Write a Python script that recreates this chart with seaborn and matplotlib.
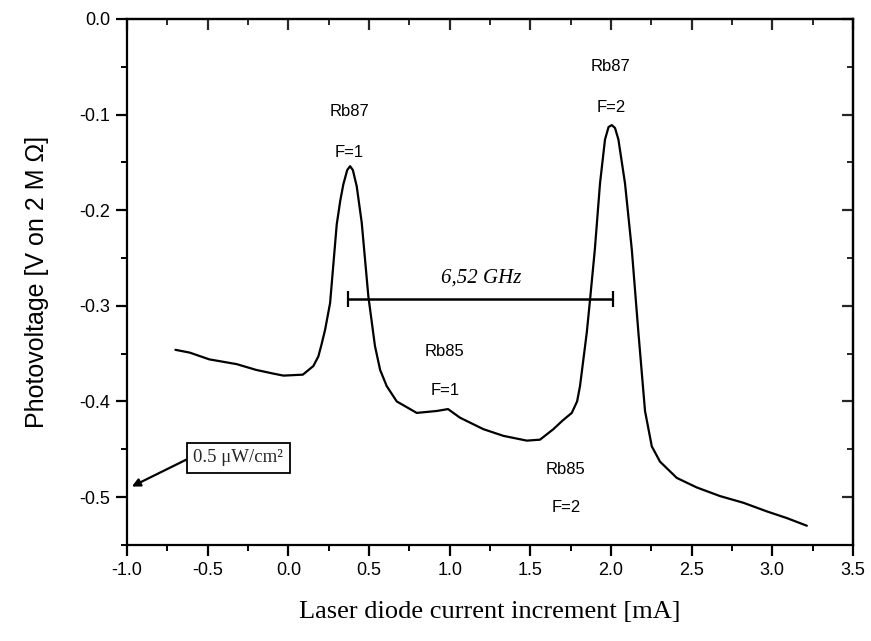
import numpy as np
import pandas as pd
import seaborn as sns
import matplotlib
matplotlib.use("Agg")
import matplotlib.pyplot as plt
from matplotlib.ticker import MultipleLocator, FormatStrFormatter

# Absorption spectrum: laser diode current increment vs photovoltage
current_ma = [-0.70, -0.61, -0.49, -0.32, -0.20, -0.09, -0.03, 0.09, 0.155, 0.186,
              0.205, 0.228, 0.259, 0.28, 0.30, 0.322, 0.341, 0.365, 0.383, 0.40, 0.424,
              0.455, 0.496, 0.537, 0.569, 0.61, 0.672, 0.796, 0.92, 0.99, 1.064,
              1.209, 1.333, 1.478, 1.56, 1.643, 1.70, 1.757, 1.79, 1.808, 1.85,
              1.87, 1.90, 1.932, 1.963, 1.985, 2.005, 2.025, 2.046, 2.087, 2.129,
              2.17, 2.211, 2.253, 2.304, 2.408, 2.532, 2.676, 2.821, 2.966, 3.09,
              3.214]
photovoltage_v = [-0.346, -0.349, -0.356, -0.361, -0.367, -0.371, -0.373, -0.372, -0.363, -0.353,
                  -0.341, -0.325, -0.297, -0.255, -0.215, -0.19, -0.173, -0.158, -0.154, -0.158, -0.175,
                  -0.213, -0.29, -0.342, -0.367, -0.384, -0.400, -0.412, -0.410, -0.408, -0.417,
                  -0.429, -0.436, -0.441, -0.440, -0.429, -0.420, -0.412, -0.400, -0.384, -0.328,
                  -0.294, -0.241, -0.172, -0.126, -0.113, -0.111, -0.114, -0.126, -0.172, -0.241,
                  -0.328, -0.410, -0.447, -0.463, -0.480, -0.490, -0.499, -0.506, -0.515, -0.522,
                  -0.530]

# Peak labels: (text, x, y)
peak_labels = ["Rb87", "F=1", "Rb87", "F=2", "Rb85", "F=1", "Rb85", "F=2"]
peak_label_x = [0.38, 0.38, 2.00, 2.00, 0.97, 0.97, 1.72, 1.72]
peak_label_y = [-0.097, -0.140, -0.050, -0.093, -0.348, -0.389, -0.471, -0.511]

# Hyperfine splitting marker between the two Rb87 peaks
split_x = [0.372, 2.015]
split_y = -0.293
split_text = "6,52 GHz"

intensity_text = "0.5 \u03bcW/cm\u00b2"

df = pd.DataFrame({"current": current_ma, "voltage": photovoltage_v})

sns.set_theme(style="ticks")
plt.rcParams["font.family"] = ["Liberation Sans", "DejaVu Sans"]
plt.rcParams["axes.unicode_minus"] = False

fig = plt.figure(figsize=(8.71, 6.41), dpi=100)
ax = fig.add_axes([0.1458, 0.150, 0.8335, 0.8204])

sns.lineplot(data=df, x="current", y="voltage", ax=ax, color="black",
             linewidth=1.6, sort=False, estimator=None)

ax.set_xlim(-1.0, 3.5)
ax.set_ylim(-0.55, 0.0)

for s in ax.spines.values():
    s.set_linewidth(1.6)
    s.set_color("black")

ax.xaxis.set_major_locator(MultipleLocator(0.5))
ax.xaxis.set_minor_locator(MultipleLocator(0.25))
ax.yaxis.set_major_locator(MultipleLocator(0.1))
ax.yaxis.set_minor_locator(MultipleLocator(0.05))
ax.xaxis.set_major_formatter(FormatStrFormatter("%.1f"))
ax.yaxis.set_major_formatter(FormatStrFormatter("%.1f"))
ax.tick_params(which="major", direction="out", length=8, width=1.6,
               labelsize=13, colors="black", pad=4)
ax.tick_params(which="minor", direction="out", length=4, width=1.4, colors="black")

# Mirror ticks on top and right, pointing into the plot
top = ax.secondary_xaxis("top")
top.xaxis.set_major_locator(MultipleLocator(0.5))
top.xaxis.set_minor_locator(MultipleLocator(0.25))
top.tick_params(which="major", direction="in", length=8, width=1.6, labeltop=False)
top.tick_params(which="minor", direction="in", length=4, width=1.4)
top.spines["top"].set_linewidth(1.6)
right = ax.secondary_yaxis("right")
right.yaxis.set_major_locator(MultipleLocator(0.1))
right.yaxis.set_minor_locator(MultipleLocator(0.05))
right.tick_params(which="major", direction="in", length=8, width=1.6, labelright=False)
right.tick_params(which="minor", direction="in", length=4, width=1.4)
right.spines["right"].set_linewidth(1.6)

ax.set_xlabel("Laser diode current increment [mA]", family="Liberation Serif",
              fontsize=19, labelpad=16, color="black")
ax.set_ylabel("Photovoltage [V on 2 M \u03a9]", fontsize=18, labelpad=22, color="black")

for t, x, y in zip(peak_labels, peak_label_x, peak_label_y):
    ax.text(x, y, t, ha="center", va="center", fontsize=12, color="black")

# Splitting bar with end caps
ax.errorbar([sum(split_x) / 2], [split_y], xerr=[[(split_x[1] - split_x[0]) / 2]],
            color="black", capsize=6, capthick=1.6, elinewidth=1.8, fmt="none")
ax.text(sum(split_x) / 2, split_y + 0.022, split_text, ha="center", va="center",
        fontsize=15, family="Liberation Serif", style="italic", color="black")

# Light intensity note with arrow to the axis
ax.annotate(intensity_text, xy=(-0.97, -0.489), xytext=(-0.31, -0.459),
            ha="center", va="center", fontsize=13.5, family="Liberation Serif",
            bbox=dict(boxstyle="square,pad=0.35", fc="white", ec="black", lw=1.3),
            arrowprops=dict(arrowstyle="-|>", color="black", lw=1.6,
                            shrinkA=0, shrinkB=0, mutation_scale=12,
                            relpos=(0.0, 0.6)))

fig.savefig("out.png", dpi=100)
